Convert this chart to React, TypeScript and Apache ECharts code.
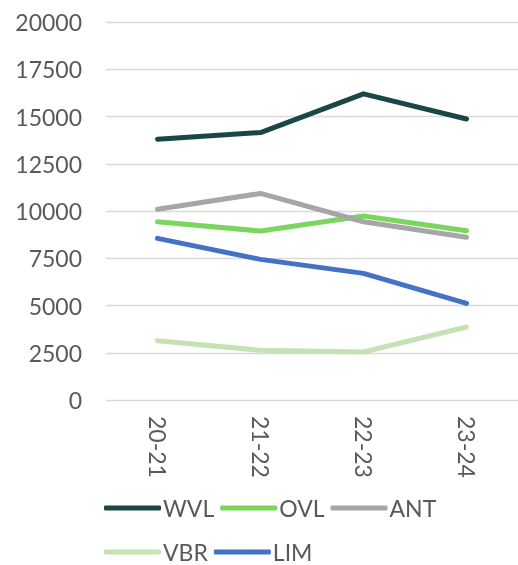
import React, { useEffect, useRef } from "react";
import * as echarts from "echarts";

const categories = ["20-21", "21-22", "22-23", "23-24"];
const seriesNames = ["WVL", "OVL", "ANT", "VBR", "LIM"];
const wvl = [13800, 14150, 16200, 14870];
const ovl = [9430, 8940, 9740, 8960];
const ant = [10090, 10930, 9430, 8610];
const vbr = [3140, 2630, 2540, 3860];
const lim = [8550, 7440, 6700, 5110];
const yTicks = { min: 0, max: 20000, interval: 2500 };

const colors = ["#1b4647", "#7ad65f", "#a6a6a6", "#c6e2b5", "#4473c5"];

export default function App() {
  const ref = useRef<HTMLDivElement>(null);
  useEffect(() => {
    if (!ref.current) return;
    const chart = echarts.init(ref.current, undefined, { renderer: "svg" });
    const data = [wvl, ovl, ant, vbr, lim];
    const font = "Lato";
    const fs = 23;
    const legendText = { fontFamily: font, fontSize: fs, color: "#595959", lineHeight: 24, padding: [0, 0, 0, -3] };
    chart.setOption({
      animation: false,
      grid: { left: 106, width: 418, top: 22, height: 378 },
      xAxis: {
        type: "category",
        data: categories,
        boundaryGap: true,
        axisLine: { show: false },
        axisTick: { show: false },
        axisLabel: {
          rotate: -90,
          margin: 16,
          fontFamily: font,
          fontSize: fs,
          color: "#595959",
        },
      },
      yAxis: {
        type: "value",
        min: yTicks.min,
        max: yTicks.max,
        interval: yTicks.interval,
        axisLabel: {
          margin: 24,
          fontFamily: font,
          fontSize: fs,
          color: "#595959",
          formatter: (v: number) => String(v),
        },
        splitLine: { lineStyle: { color: "#d9d9d9", width: 1.3 } },
      },
      legend: [
        {
          data: seriesNames.slice(0, 3),
          left: 104,
          top: 496,
          icon: "roundRect",
          itemWidth: 57,
          itemHeight: 5,
          itemGap: 6,
          padding: 0,
          textStyle: legendText,
        },
        {
          data: seriesNames.slice(3),
          left: 104,
          top: 540,
          icon: "roundRect",
          itemWidth: 57,
          itemHeight: 5,
          itemGap: 6,
          padding: 0,
          textStyle: legendText,
        },
      ],
      series: seriesNames.map((name, i) => ({
        name,
        type: "line",
        data: data[i],
        showSymbol: false,
        symbol: "none",
        itemStyle: { color: colors[i] },
        lineStyle: { color: colors[i], width: 5, cap: "round", join: "round" },
      })),
    });
    return () => chart.dispose();
  }, []);
  return (
    <div
      ref={ref}
      style={{ position: "fixed", left: 0, top: 0, width: 518, height: 565 }}
    />
  );
}
